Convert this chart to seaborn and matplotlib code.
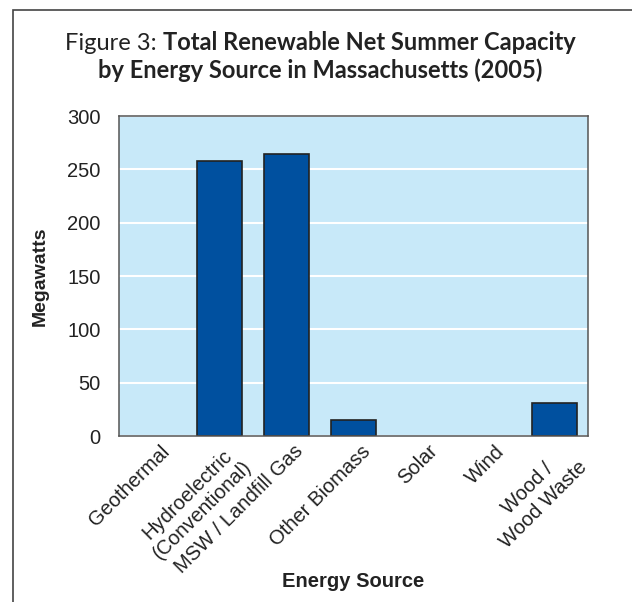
import numpy as np
import pandas as pd
import seaborn as sns
import matplotlib.pyplot as plt
from matplotlib.patches import Rectangle
from matplotlib.transforms import ScaledTranslation

# values
sources = ["Geothermal", "Hydroelectric\n(Conventional)", "MSW / Landfill Gas",
           "Other Biomass", "Solar", "Wind", "Wood /\nWood Waste"]
megawatts = [0, 258, 264, 15, 0, 0, 31]
y_ticks = [0, 50, 100, 150, 200, 250, 300]

df = pd.DataFrame({"source": sources, "megawatts": megawatts})

sns.set_style("white")
plt.rcParams["font.family"] = ["Liberation Sans", "DejaVu Sans"]

fig = plt.figure(figsize=(6.32, 6.02), dpi=100)
ax = fig.add_axes([119 / 632, 1 - 436 / 602, 469 / 632, 320 / 602])
ax.set_facecolor("#c8e9f9")

sns.barplot(data=df, x="source", y="megawatts", color="#00509f", width=0.68,
            edgecolor="#222222", linewidth=1.2, saturation=1, ax=ax)
# empty categories show no outline in the reference
for bar in ax.patches:
    if bar.get_height() == 0:
        bar.set_linewidth(0)

ax.set_ylim(0, 300)
ax.set_xlim(-0.5, len(sources) - 0.5)
ax.set_yticks(y_ticks)
ax.yaxis.grid(True, color="white", linewidth=1.5)
ax.set_axisbelow(True)

# ticks between categories, labels at category centres
ax.set_xticks(np.arange(-0.5, len(sources), 1), minor=True)
ax.tick_params(axis="x", which="major", length=0, pad=4)
ax.tick_params(axis="x", which="minor", length=7, width=1, color="#555555", direction="out")
ax.tick_params(axis="y", length=7.2, width=1, color="#555555", direction="out",
               labelsize=14.5, labelcolor="#222222", pad=6)
ax.set_xticks(range(len(sources)))
ax.set_xticklabels(sources, rotation=45, ha="right", rotation_mode="anchor",
                   fontsize=14.5, color="#222222", multialignment="center")
# nudge labels a little to the right, as in the reference
shift = ScaledTranslation(7 / 100, 0, fig.dpi_scale_trans)
for lbl in ax.get_xticklabels():
    lbl.set_transform(lbl.get_transform() + shift)

for side in ["left", "right", "top", "bottom"]:
    ax.spines[side].set_visible(True)
    ax.spines[side].set_color("#555555")
    ax.spines[side].set_linewidth(1.1)

ax.set_xlabel("Energy Source", fontsize=14.5, fontweight="bold", color="#222222")
ax.xaxis.set_label_coords(0.5, -0.425)
ax.set_ylabel("Megawatts", fontsize=14, fontweight="bold", color="#222222")
ax.yaxis.set_label_coords(-0.15, 0.5)

# title: regular prefix + bold text on first line
title_font = ["Lato", "DejaVu Sans"]
t_size = 17
renderer = fig.canvas.get_renderer()
t1 = fig.text(0, 1 - 50 / 602, "Figure 3: ", fontsize=t_size, family=title_font,
              color="#222222", va="baseline")
t2 = fig.text(0, 1 - 50 / 602, "Total Renewable Net Summer Capacity", fontsize=t_size,
              family=title_font, fontweight="bold", color="#222222", va="baseline")
w1 = t1.get_window_extent(renderer).width
w2 = t2.get_window_extent(renderer).width
x0 = 320.5 - (w1 + w2) / 2
t1.set_x(x0 / 632)
t2.set_x((x0 + w1) / 632)
fig.text(320 / 632, 1 - 78 / 602, "by Energy Source in Massachusetts (2005)", fontsize=t_size,
         family=title_font, fontweight="bold", color="#222222", ha="center", va="baseline")

# outer frame, cut off on the right and bottom like the reference
fig.patches.append(Rectangle((13 / 632, -0.05), 1.0, 1 - 10 / 602 + 0.05,
                             transform=fig.transFigure, fill=False,
                             edgecolor="#444444", linewidth=1.2))

fig.savefig("out.png", dpi=100)
